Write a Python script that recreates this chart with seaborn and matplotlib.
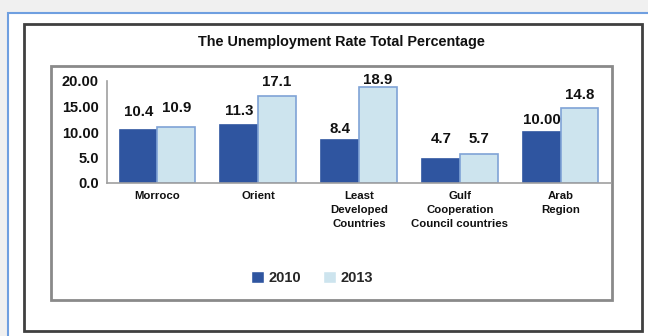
import matplotlib
matplotlib.use("Agg")
import matplotlib.pyplot as plt
from matplotlib.patches import Rectangle
import pandas as pd
import seaborn as sns

# --- data -------------------------------------------------------------
regions = ["Morroco", "Orient", "Least\nDeveloped\nCountries",
           "Gulf\nCooperation\nCouncil countries", "Arab\nRegion"]
years = ["2010", "2013"]
rate_2010 = [10.4, 11.3, 8.4, 4.7, 10.0]
rate_2013 = [10.9, 17.1, 18.9, 5.7, 14.8]
labels_2010 = ["10.4", "11.3", "8.4", "4.7", "10.00"]
labels_2013 = ["10.9", "17.1", "18.9", "5.7", "14.8"]
ytick_values = [0, 5, 10, 15, 20]
ytick_labels = ["0.0", "5.0", "10.00", "15.00", "20.00"]
title = "The Unemployment Rate Total Percentage"

# gap (pixels) between each bar top and the centre of its value label
pad_2010 = [18, 14, 11, 20, 12]
pad_2013 = [19, 14, 7, 15, 13]

df = pd.DataFrame({
    "Region": regions * 2,
    "Year": [years[0]] * len(regions) + [years[1]] * len(regions),
    "Rate": rate_2010 + rate_2013,
})

sns.set_theme(style="white")
plt.rcParams["font.family"] = ["Liberation Sans", "DejaVu Sans"]
plt.rcParams["font.weight"] = "bold"

DARK = "#2F55A0"
LIGHT = "#CDE4EE"
LIGHT_EDGE = "#7FA3D6"

W, H = 648, 336
fig = plt.figure(figsize=(W / 100, H / 100), dpi=100)
fig.patch.set_facecolor("#F0F0F0")


def box(x0, y0, x1, y1, **kw):
    """Rectangle given in pixel coordinates measured from the top-left."""
    fig.patches.append(Rectangle((x0 / W, 1 - y1 / H), (x1 - x0) / W, (y1 - y0) / H,
                                 transform=fig.transFigure, figure=fig, zorder=-5, **kw))


# nested frames around the chart
box(8, 13, 700, 400, facecolor="white", edgecolor="#6F9FE0", lw=1.5)
box(24, 24, 642, 331, facecolor="white", edgecolor="#404040", lw=2)
box(51, 66, 612, 300, facecolor="white", edgecolor="#8A8A8A", lw=2)

fig.text(341 / W, 1 - 42 / H, title, ha="center", va="center",
         fontsize=10.4, fontweight="bold", color="#111111")

ax = fig.add_axes([107 / W, (H - 183) / H, 504 / W, 102 / H])
ax.set_facecolor("none")
ax.set_zorder(5)

sns.barplot(data=df, x="Region", y="Rate", hue="Year", hue_order=years,
            palette=[DARK, LIGHT], width=0.75, ax=ax, saturation=1)

for cont, edge in zip(ax.containers, [DARK, LIGHT_EDGE]):
    for bar in cont:
        bar.set_edgecolor(edge)
        bar.set_linewidth(1.2)

for cont, texts, pads in zip(ax.containers, [labels_2010, labels_2013], [pad_2010, pad_2013]):
    for bar, txt, pad in zip(cont, texts, pads):
        ax.annotate(txt, (bar.get_x() + bar.get_width() / 2, bar.get_height()),
                    xytext=(0, pad), textcoords="offset pixels",
                    ha="center", va="center", fontsize=10.8, fontweight="bold",
                    color="#111111", annotation_clip=False)

ax.set_xlim(-0.5, len(regions) - 0.5)
ax.set_ylim(0, 20)
ax.set_yticks(ytick_values)
ax.set_yticklabels(ytick_labels, fontweight="bold")
ax.set_xticks(range(len(regions)))
ax.set_xticklabels(regions, fontweight="bold", linespacing=1.45)
ax.set_xlabel("")
ax.set_ylabel("")
ax.tick_params(axis="y", length=0, pad=6, labelsize=10.5, labelcolor="#111111")
ax.tick_params(axis="x", length=0, pad=6, labelsize=8.2, labelcolor="#111111")

for side in ["top", "right"]:
    ax.spines[side].set_visible(False)
for side in ["left", "bottom"]:
    ax.spines[side].set_color("#A0A0A0")
    ax.spines[side].set_linewidth(1.2)

handles, labs = ax.get_legend_handles_labels()
ax.get_legend().remove()
fig.legend(handles, labs, loc="center", bbox_to_anchor=(312 / W, 1 - 278 / H),
           ncol=2, frameon=False, handlelength=0.85, handleheight=0.85,
           handletextpad=0.3, columnspacing=1.55,
           prop={"weight": "bold", "size": 10.5})

fig.savefig("out.png", dpi=100, facecolor=fig.get_facecolor())
